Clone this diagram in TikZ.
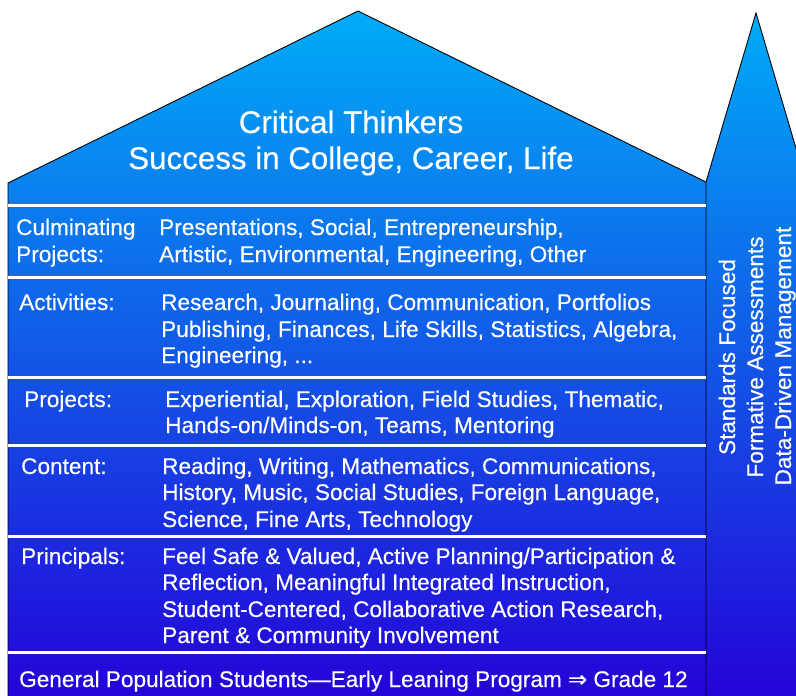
\documentclass[tikz,border=0pt]{standalone}
\usepackage{fontspec}
\setmainfont{Liberation Sans}[FakeBold=0.35]
\newfontfamily\symfont{DejaVu Sans}[FakeBold=0.35]
\newcommand\rowfont{\fontsize{22.6}{26}\selectfont}
\newcommand\titlefont{\fontsize{31.3}{36}\selectfont}
\definecolor{gtop}{RGB}{0,172,247}
\definecolor{gmid}{RGB}{18,100,232}
\definecolor{gbot}{RGB}{36,4,216}
\tikzset{
  txt/.style={text=white, font=\rowfont, inner sep=0pt, anchor=base west},
  ttl/.style={text=white, font=\titlefont, inner sep=0pt, anchor=base},
  vtxt/.style={text=white, font=\rowfont, inner sep=0pt, anchor=base, rotate=90},
  sepline/.style={white, line width=3pt},
  edgeline/.style={black, line width=0.9pt, line join=miter}
}
\begin{document}
\begin{tikzpicture}[x=1pt,y=-1pt]
\useasboundingbox (0,0) rectangle (796,696);
\begin{scope}
\clip (0,0) rectangle (796,696);
\shade[top color=gtop, middle color=gmid, bottom color=gbot]
  (8,696) -- (8,183) -- (358,11) -- (706,182) -- (756,13) -- (806,182) -- (806,696) -- cycle;
\draw[edgeline] (8,697) -- (8,183) -- (358,11) -- (706,182) -- (706,697);
\draw[edgeline] (706,182) -- (756,13) -- (806,182);
\foreach \yy in {205,277,377,445,536,652}
  \draw[sepline] (7.5,\yy) -- (705.5,\yy);
\end{scope}
% title
\node[ttl] (t1) at (351,133) {Critical Thinkers};
\node[ttl] (t2) at (351,169) {Success in College, Career, Life};
% culminating projects
\node[txt] (l1a) at (16,235) {Culminating};
\node[txt] (l1b) at (16,262) {Projects:};
\node[txt] (c1a) at (159,235) {Presentations, Social, Entrepreneurship,};
\node[txt] (c1b) at (159,262) {Artistic, Environmental, Engineering, Other};
% activities
\node[txt] (l2) at (19,310) {Activities:};
\node[txt] (c2a) at (161,310) {Research, Journaling, Communication, Portfolios};
\node[txt] (c2b) at (161,337) {Publishing, Finances, Life Skills, Statistics, Algebra,};
\node[txt] (c2c) at (161,363) {Engineering, ...};
% projects
\node[txt] (l3) at (24,407) {Projects:};
\node[txt] (c3a) at (165,407) {Experiential, Exploration, Field Studies, Thematic,};
\node[txt] (c3b) at (165,433) {Hands-on/Minds-on, Teams, Mentoring};
% content
\node[txt] (l4) at (21,474) {Content:};
\node[txt] (c4a) at (162,474) {Reading, Writing, Mathematics, Communications,};
\node[txt] (c4b) at (162,500) {History, Music, Social Studies, Foreign Language,};
\node[txt] (c4c) at (162,527) {Science, Fine Arts, Technology};
% principals
\node[txt] (l5) at (21,564) {Principals:};
\node[txt] (c5a) at (162,564) {Feel Safe \& Valued, Active Planning/Participation \&};
\node[txt] (c5b) at (162,590) {Reflection, Meaningful Integrated Instruction,};
\node[txt] (c5c) at (162,617) {Student-Centered, Collaborative Action Research,};
\node[txt] (c5d) at (162,643) {Parent \& Community Involvement};
% base
\node[txt] (gen) at (19,687) {General Population Students—Early Leaning Program {\symfont ⇒} Grade 12};
% pillar
\node[vtxt] (v1) at (735,357) {Standards Focused};
\node[vtxt] (v2) at (763,357) {Formative Assessments};
\node[vtxt] (v3) at (791,356) {Data-Driven Management};
\end{tikzpicture}
\end{document}
